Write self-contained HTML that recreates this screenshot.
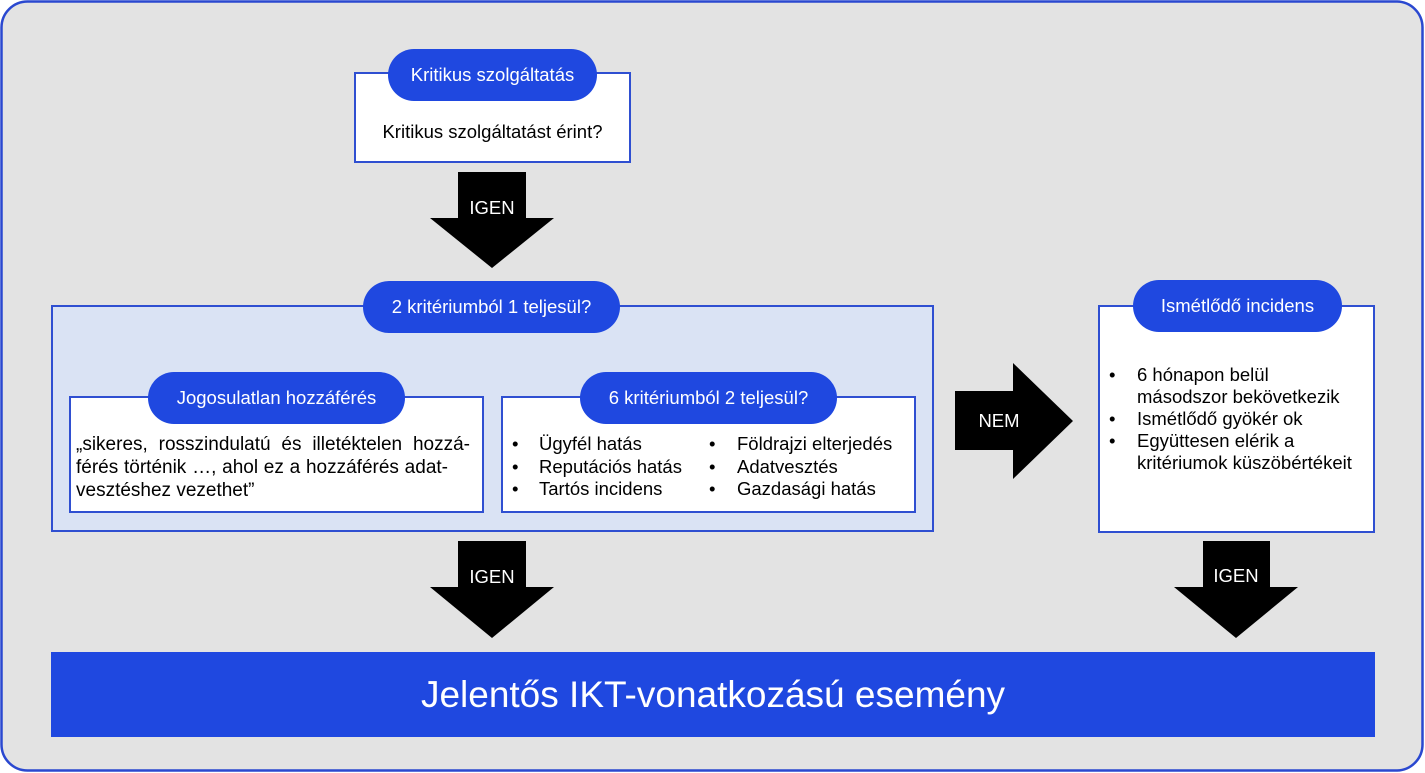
<!DOCTYPE html>
<html><head><meta charset="utf-8">
<style>
*{margin:0;padding:0;box-sizing:border-box}
html,body{width:1425px;height:773px;background:#fff;overflow:hidden}
body{position:relative;font-family:"Liberation Sans",Arial,sans-serif;color:#000}
.abs{position:absolute}
.box{position:absolute;background:#fff;border:2px solid #2f4fd1}
.pill{position:absolute;height:52px;border-radius:26px;background:#1f48e0;color:#fff;font-size:18.5px;line-height:52px;text-align:center;white-space:nowrap}
.t{position:absolute;font-size:18.5px;white-space:nowrap}
.lbl{position:absolute;color:#fff;font-size:18.5px;text-align:center;white-space:nowrap}
.jl{position:absolute;font-size:19px;line-height:23px;white-space:nowrap;text-align:justify;text-align-last:justify}
</style></head>
<body>
<svg class="abs" style="left:0;top:0" width="1425" height="773" viewBox="0 0 1425 773">
  <rect x="1.5" y="1.5" width="1421" height="769" rx="26" ry="26" fill="#e3e3e3" stroke="#2a48d0" stroke-width="2.5"/>
  <polygon points="458,172 526,172 526,218 554,218 492,268 430,218 458,218" fill="#000"/>
  <polygon points="458,541 526,541 526,587 554,587 492,638 430,587 458,587" fill="#000"/>
  <polygon points="1203,541 1270,541 1270,587 1298,587 1236,638 1174,587 1203,587" fill="#000"/>
  <polygon points="955,391 1013,391 1013,363 1073,421 1013,479 1013,450 955,450" fill="#000"/>
</svg>

<!-- top box -->
<div class="box" style="left:354px;top:72px;width:277px;height:91px"></div>
<div class="pill" style="left:388px;top:49px;width:209px">Kritikus szolgáltatás</div>
<div class="t" style="left:354px;top:120px;width:277px;text-align:center;line-height:24px">Kritikus szolgáltatást érint?</div>

<div class="lbl" style="left:452px;top:196px;width:80px;line-height:24px">IGEN</div>

<!-- big light box -->
<div class="box" style="left:51px;top:305px;width:883px;height:227px;background:#dae3f4"></div>
<div class="pill" style="left:363px;top:281px;width:257px">2 kritériumból 1 teljesül?</div>

<!-- inner left -->
<div class="box" style="left:69px;top:396px;width:415px;height:117px"></div>
<div class="pill" style="left:148px;top:372px;width:257px">Jogosulatlan hozzáférés</div>
<div class="jl" style="left:76px;top:433px;width:394px">„sikeres, rosszindulatú és illetéktelen hozzá-</div>
<div class="jl" style="left:76px;top:456px;width:372px">férés történik …, ahol ez a hozzáférés adat-</div>
<div class="jl" style="left:76px;top:479px;text-align:left;text-align-last:left">vesztéshez vezethet”</div>

<!-- inner right -->
<div class="box" style="left:501px;top:396px;width:415px;height:117px"></div>
<div class="pill" style="left:580px;top:372px;width:257px">6 kritériumból 2 teljesül?</div>
<div class="t" style="left:512px;top:433px;line-height:22.5px">•<br>•<br>•</div>
<div class="t" style="left:539px;top:433px;line-height:22.5px">Ügyfél hatás<br>Reputációs hatás<br>Tartós incidens</div>
<div class="t" style="left:709px;top:433px;line-height:22.5px">•<br>•<br>•</div>
<div class="t" style="left:737px;top:433px;line-height:22.5px">Földrajzi elterjedés<br>Adatvesztés<br>Gazdasági hatás</div>

<!-- NEM -->
<div class="lbl" style="left:959px;top:409px;width:80px;line-height:24px">NEM</div>

<!-- right box -->
<div class="box" style="left:1098px;top:305px;width:277px;height:228px"></div>
<div class="pill" style="left:1133px;top:280px;width:209px">Ismétlődő incidens</div>
<div class="t" style="left:1109px;top:364px;line-height:22px">•<br><br>•<br>•</div>
<div class="t" style="left:1137px;top:364px;line-height:22px">6 hónapon belül<br>másodszor bekövetkezik<br>Ismétlődő gyökér ok<br>Együttesen elérik a<br>kritériumok küszöbértékeit</div>

<div class="lbl" style="left:452px;top:565px;width:80px;line-height:24px">IGEN</div>
<div class="lbl" style="left:1196px;top:564px;width:80px;line-height:24px">IGEN</div>

<!-- bottom bar -->
<div class="abs" style="left:51px;top:652px;width:1324px;height:85px;background:#1f48e0;color:#fff;font-size:37px;line-height:85px;text-align:center;white-space:nowrap">Jelentős IKT-vonatkozású esemény</div>
</body></html>
